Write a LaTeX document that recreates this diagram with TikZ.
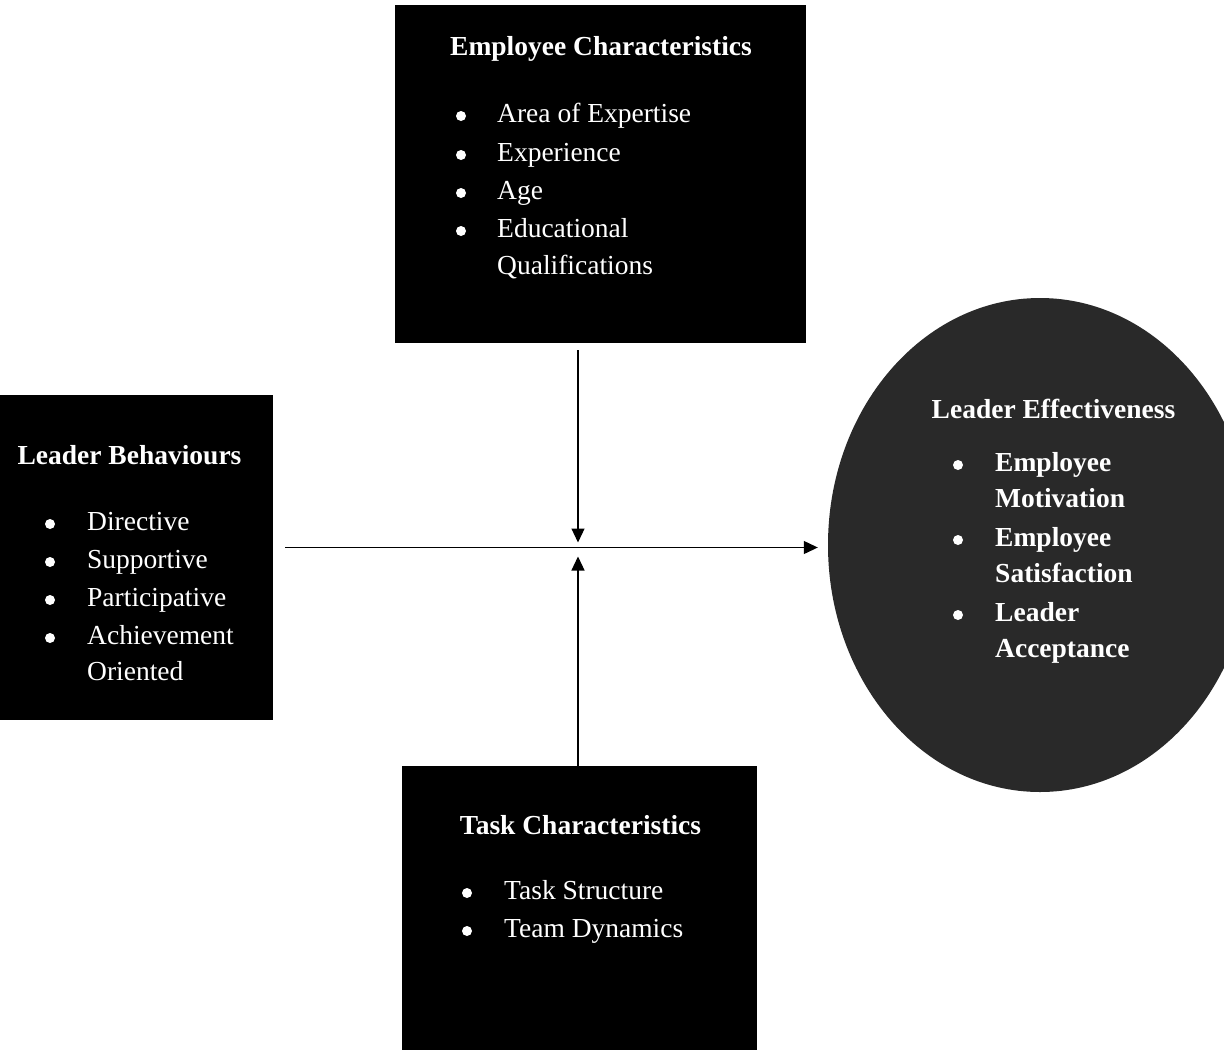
\documentclass[tikz,border=0pt]{standalone}
\usepackage{fontspec}
\setmainfont{Liberation Serif}
\usetikzlibrary{shapes.geometric,arrows.meta}
\tikzset{
  box/.style={rectangle, fill=black, draw=none, inner sep=0pt},
  oval/.style={ellipse, fill=black!84, draw=none, inner sep=0pt},
  ttl/.style={text=white, anchor=base, inner sep=0pt, font=\fontsize{27.5}{33}\selectfont\bfseries},
  itm/.style={text=white, anchor=base west, inner sep=0pt, font=\fontsize{27.5}{33}\selectfont},
  bitm/.style={itm, font=\fontsize{27.5}{33}\selectfont\bfseries},
  bul/.style={fill=white},
  conn/.style={line width=1.2pt, -{Triangle[length=14pt,width=13pt]}}
}
\newcommand{\mybul}[2]{\fill[bul] (#1,#2) circle (5);}
\begin{document}
\begin{tikzpicture}[x=1pt,y=-1pt]
\useasboundingbox (0,0) rectangle (1224,1050);
\fill[white] (0,0) rectangle (1224,1050);
\begin{scope}
\clip (0,0) rectangle (1224,1050);
% boxes
\node[box, minimum width=411pt, minimum height=338pt] (emp) at (600.5,174) {};
\node[box, minimum width=273pt, minimum height=325pt] (lb) at (136.5,557.5) {};
\node[box, minimum width=355pt, minimum height=284pt] (task) at (579.5,908) {};
\node[oval, minimum width=424pt, minimum height=494pt] (le) at (1040,545) {};
\end{scope}
% Employee Characteristics
\node[ttl] (empt) at (601,55) {Employee Characteristics};
\node[itm] (e1) at (497,122) {Area of Expertise};
\node[itm] (e2) at (497,161) {Experience};
\node[itm] (e3) at (497,199) {Age};
\node[itm] (e4) at (497,237) {Educational};
\node[itm] (e5) at (497,274) {Qualifications};
\mybul{461}{116}\mybul{461}{155}\mybul{461}{193}\mybul{461}{231}
% Leader Behaviours
\node[ttl] (lbt) at (129.5,464) {Leader Behaviours};
\node[itm] (l1) at (87,530) {Directive};
\node[itm] (l2) at (87,568) {Supportive};
\node[itm] (l3) at (87,606) {Participative};
\node[itm] (l4) at (87,644) {Achievement};
\node[itm] (l5) at (87,680) {Oriented};
\mybul{50}{524}\mybul{50}{562}\mybul{50}{600}\mybul{50}{638}
% Task Characteristics
\node[ttl] (tt) at (580.5,834) {Task Characteristics};
\node[itm] (t1) at (504,899) {Task Structure};
\node[itm] (t2) at (504,937) {Team Dynamics};
\mybul{467}{893}\mybul{467}{931}
% Leader Effectiveness
\node[ttl] (let) at (1053.5,418) {Leader Effectiveness};
\node[bitm] (c1) at (995,471) {Employee};
\node[bitm] (c2) at (995,507) {Motivation};
\node[bitm] (c3) at (995,546) {Employee};
\node[bitm] (c4) at (995,582) {Satisfaction};
\node[bitm] (c5) at (995,621) {Leader};
\node[bitm] (c6) at (995,657) {Acceptance};
\mybul{958}{465}\mybul{958}{540}\mybul{958}{615}
% connectors
\coordinate (J) at (578,547.5);
\draw[conn, shorten <=12pt, shorten >=10pt] (lb.east |- J) -- (le.west |- J);
\draw[conn, shorten <=7pt, shorten >=5pt] (emp.south -| J) -- (J);
\draw[conn, shorten >=9pt] (task.north -| J) -- (J);
\end{tikzpicture}
\end{document}
